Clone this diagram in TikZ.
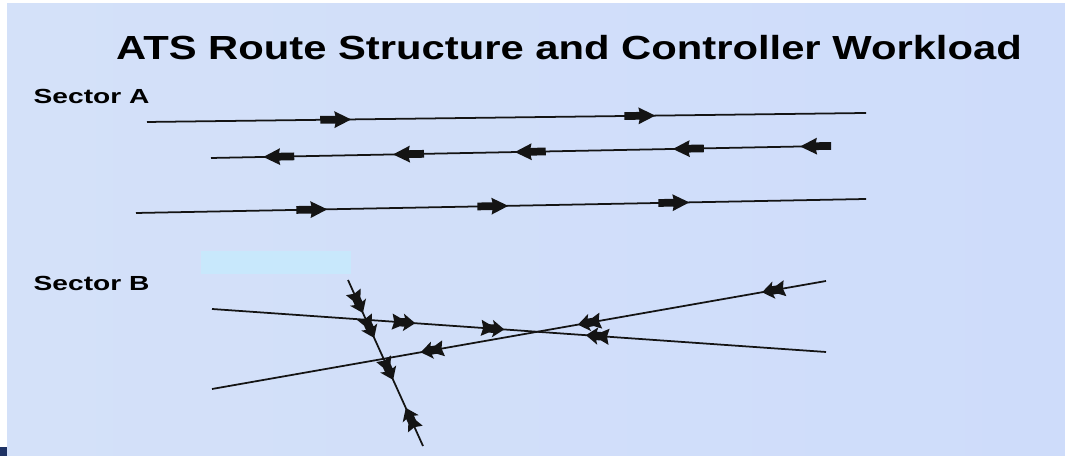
\documentclass[tikz,border=0pt]{standalone}
\usepackage{fontspec}
\setmainfont{Liberation Sans}
\usetikzlibrary{decorations.markings}

\definecolor{slide}{RGB}{212,225,249}
\definecolor{slideR}{RGB}{206,220,250}
\definecolor{tab}{RGB}{200,232,252}
\definecolor{navy}{RGB}{30,50,100}
\definecolor{ink}{RGB}{20,20,20}

% flow arrow heads, tip at the mark
\newcommand{\fatarrow}{\fill[ink] (0,0) -- (-4.8pt,2.4pt) -- (-4.5pt,1.1pt) -- (-8.8pt,1.1pt)
  -- (-8.8pt,-1.1pt) -- (-4.5pt,-1.1pt) -- (-4.8pt,-2.4pt) -- cycle;}
\newcommand{\planearrow}{\fill[ink] (0,0) -- (-3.4pt,2.5pt) -- (-3pt,1.2pt) -- (-4.4pt,1.2pt)
  -- (-6.6pt,2.3pt) -- (-6pt,0) -- (-6.6pt,-2.3pt) -- (-4.4pt,-1.2pt) -- (-3pt,-1.2pt)
  -- (-3.4pt,-2.5pt) -- cycle;}

\begin{document}
\begin{tikzpicture}[
    x=0.01cm, y=-0.01cm,
    route/.style={ink, line width=0.5pt},
    fwd/.style={postaction={decorate, decoration={markings, mark=at position #1 with {\fatarrow}}}},
    rev/.style={postaction={decorate, decoration={markings, mark=at position #1 with {\pgftransformxscale{-1}\fatarrow}}}},
    fwdB/.style={postaction={decorate, decoration={markings, mark=at position #1 with {\planearrow}}}},
    revB/.style={postaction={decorate, decoration={markings, mark=at position #1 with {\pgftransformxscale{-1}\planearrow}}}},
    heading/.style={font=\bfseries\fontsize{9.5}{11}\selectfont, inner sep=0pt, anchor=base},
    sector/.style={font=\bfseries\fontsize{5.8}{7}\selectfont, inner sep=0pt, anchor=base west}
]
\useasboundingbox (0,0) rectangle (1065,456);
\fill[white] (0,0) rectangle (1065,456);
\shade[left color=slide, right color=slideR] (7,4) rectangle (1070,460);
\fill[navy] (0,447) rectangle (7,460);
\fill[tab] (201,251) rectangle (351,274);

\node[heading] (title) at (569,60) {\scalebox{1.25}[1]{ATS Route Structure and Controller Workload}};
\node[sector] (secA) at (33,104) {\scalebox{1.38}[1]{Sector A}};
\node[sector] (secB) at (33,291) {\scalebox{1.38}[1]{Sector B}};

% sector A: parallel one-way routes
\coordinate (a1w) at (147,122);
\coordinate (a1e) at (866,113);
\coordinate (a2w) at (211,158);
\coordinate (a2e) at (826,146);
\coordinate (a3w) at (136,213);
\coordinate (a3e) at (866,199);

\draw[route, fwd=0.284, fwd=0.707] (a1w) -- (a1e);
\draw[route, rev=0.085, rev=0.296, rev=0.494, rev=0.751, rev=0.958] (a2w) -- (a2e);
\draw[route, fwd=0.262, fwd=0.510, fwd=0.758] (a3w) -- (a3e);

% sector B: crossing routes
\coordinate (pw) at (212,309);
\coordinate (pe) at (826,352);
\coordinate (qw) at (212,389);
\coordinate (qe) at (826,281);
\coordinate (rn) at (348,280);
\coordinate (rs) at (423,446);

\draw[route, fwdB=0.331, fwdB=0.476, revB=0.609] (pw) -- (pe);
\draw[route, revB=0.340, revB=0.596, revB=0.896] (qw) -- (qe);
\draw[route, fwdB=0.199, fwdB=0.349, fwdB=0.602, revB=0.771] (rn) -- (rs);
\end{tikzpicture}
\end{document}
